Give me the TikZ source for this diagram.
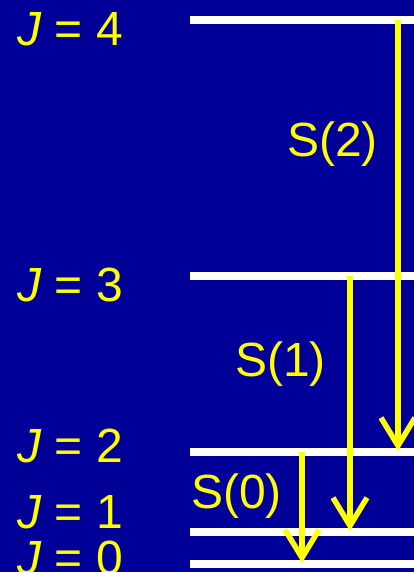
\documentclass[tikz,border=0pt]{standalone}
\usepackage{fontspec}
\setmainfont{Liberation Sans}
\usetikzlibrary{arrows.meta}
\definecolor{bgblue}{RGB}{0,0,153}
\definecolor{yel}{RGB}{255,255,0}
\tikzset{
  level/.style={draw=white, line width=8pt},
  trans/.style={draw=yel, line width=5.5pt, -{Straight Barb[length=28pt,width=34pt]}},
  lab/.style={text=yel, inner sep=0pt, anchor=base west, font=\fontsize{48}{50}\selectfont},
}
\begin{document}
\begin{tikzpicture}[x=1pt,y=1pt]
\useasboundingbox (0,0) rectangle (414,572);
\fill[bgblue] (0,0) rectangle (414,572);
% level end points
\coordinate (l4a) at (190,552); \coordinate (l4b) at (414,552);
\coordinate (l3a) at (190,296); \coordinate (l3b) at (414,296);
\coordinate (l2a) at (190,120); \coordinate (l2b) at (414,120);
\coordinate (l1a) at (190,40);  \coordinate (l1b) at (414,40);
\coordinate (l0a) at (190,8);   \coordinate (l0b) at (414,8);
\draw[level] (l4a) -- (l4b);
\draw[level] (l3a) -- (l3b);
\draw[level] (l2a) -- (l2b);
\draw[level] (l1a) -- (l1b);
\draw[level] (l0a) -- (l0b);
% transitions
\coordinate (s2a) at (398,552); \coordinate (s2b) at (398,121);
\coordinate (s1a) at (350,296); \coordinate (s1b) at (350,41);
\coordinate (s0a) at (302,120); \coordinate (s0b) at (302,9);
\draw[trans] (s2a) -- (s2b);
\draw[trans] (s1a) -- (s1b);
\draw[trans] (s0a) -- (s0b);
% labels
\node[lab] (j4) at (17,526) {\textit{J} = 4};
\node[lab] (j3) at (17,270) {\textit{J} = 3};
\node[lab] (j2) at (17,109) {\textit{J} = 2};
\node[lab] (j1) at (17,43)  {\textit{J} = 1};
\node[lab] (j0) at (17,-2)  {\textit{J} = 0};
\node[lab] (ls2) at (287,415) {S(2)};
\node[lab] (ls1) at (235,195) {S(1)};
\node[lab] (ls0) at (191,63)  {S(0)};
\end{tikzpicture}
\end{document}
